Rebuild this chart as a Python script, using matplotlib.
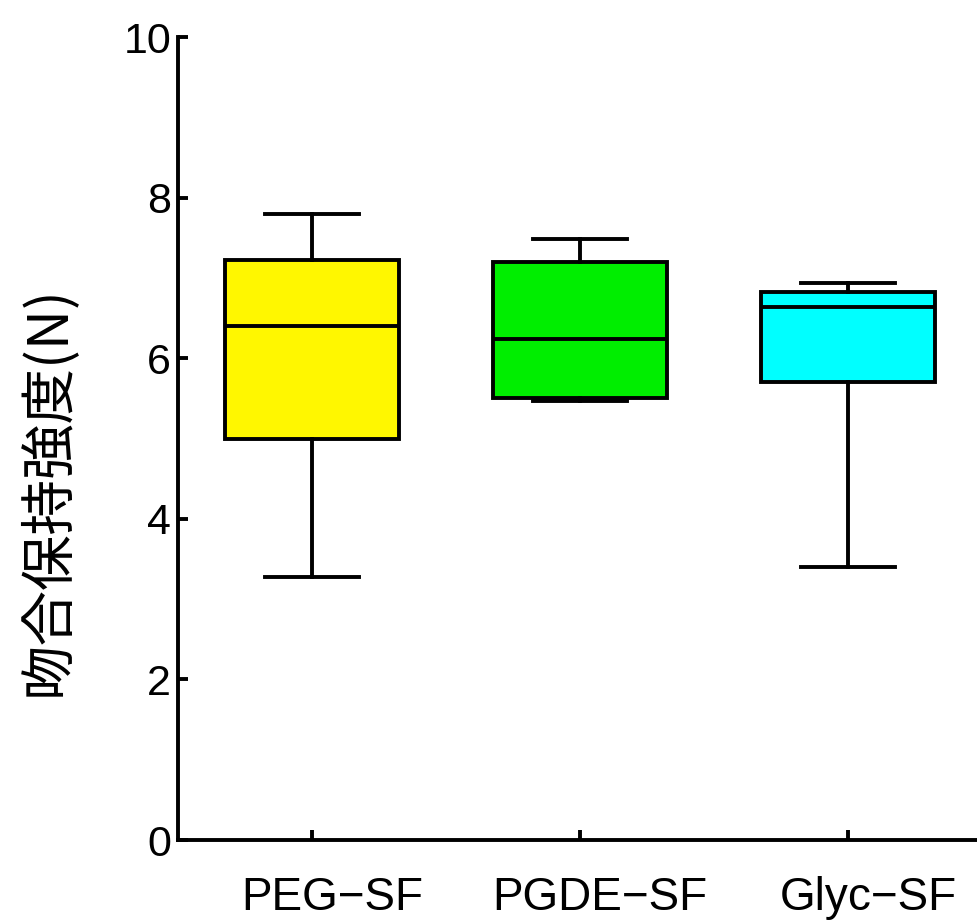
import numpy as np
import matplotlib
matplotlib.use("Agg")
import matplotlib.pyplot as plt
from matplotlib.transforms import ScaledTranslation

# five-number summaries per group (N)
groups = ["PEG−SF", "PGDE−SF", "Glyc−SF"]
whis_lo = [3.27, 5.47, 3.40]
q1 = [5.00, 5.50, 5.70]
medians = [6.40, 6.24, 6.64]
q3 = [7.22, 7.20, 6.82]
whis_hi = [7.80, 7.48, 6.94]
colors = ["#fff700", "#00ee00", "#00ffff"]

stats = []
for i, name in enumerate(groups):
    stats.append(dict(label=name, whislo=whis_lo[i], q1=q1[i], med=medians[i],
                      q3=q3[i], whishi=whis_hi[i], fliers=[]))

fig = plt.figure(figsize=(9.77, 9.24), dpi=100)
ax = fig.add_axes([0.1822, 0.0909, 0.823, 0.869])

lw = 2.8
bp = ax.bxp(stats, positions=[1, 2, 3], widths=0.65, patch_artist=True,
            showfliers=False,
            boxprops=dict(linewidth=lw, edgecolor="black"),
            medianprops=dict(linewidth=lw, color="black"),
            whiskerprops=dict(linewidth=lw, color="black"),
            capprops=dict(linewidth=lw, color="black"),
            capwidths=0.35)
for patch, c in zip(bp["boxes"], colors):
    patch.set_facecolor(c)

ax.set_xlim(0.5, 3.5)
ax.set_ylim(0, 10)
ax.set_yticks([0, 2, 4, 6, 8, 10])
ax.set_xticks([1, 2, 3])
ax.set_xticklabels(groups, family="Liberation Sans", fontsize=33)
for lab in ax.get_yticklabels():
    lab.set_family("Liberation Sans")
    lab.set_fontsize(31)

for side in ["top", "right"]:
    ax.spines[side].set_visible(False)
for side in ["left", "bottom"]:
    ax.spines[side].set_linewidth(lw)

ax.tick_params(axis="y", direction="in", length=7, width=lw, pad=5)
ax.tick_params(axis="x", direction="in", length=7, width=lw, pad=26)

# group names sit a little right of their ticks
shift = ScaledTranslation(0.2, 0, fig.dpi_scale_trans)
for tick in ax.xaxis.get_major_ticks():
    tick.label1.set_transform(tick.label1.get_transform() + shift)

ax.set_ylabel("吻合保持強度(N)", family=["Noto Sans CJK JP", "DejaVu Sans"],
              fontsize=40)
ax.yaxis.set_label_coords(-0.126, 0.435)

fig.savefig("out.png", dpi=100)
